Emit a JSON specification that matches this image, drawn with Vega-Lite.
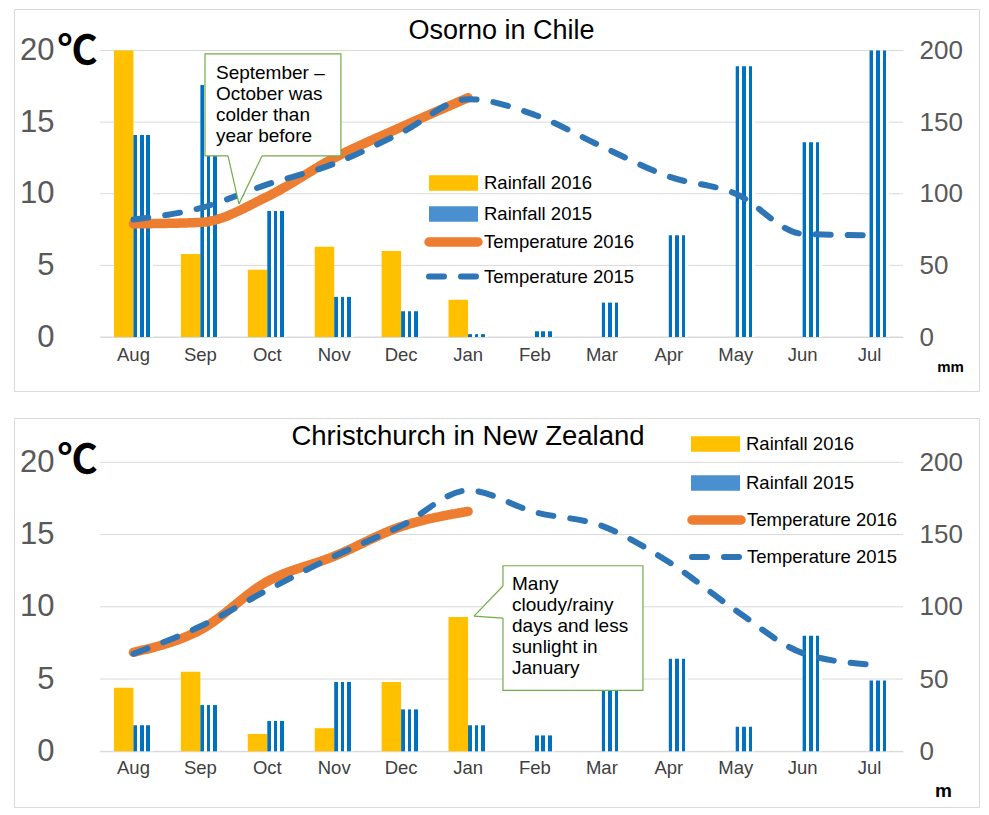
{
  "$schema": "https://vega.github.io/schema/vega-lite/v6.json",
  "padding": {"left": 13, "top": 8, "right": 0, "bottom": 0},
  "spacing": 25,
  "background": "white",
  "config": {
    "font": "Liberation Sans",
    "view": {"stroke": "#d9d9d9", "strokeWidth": 1},
    "title": {"font": "Liberation Sans", "fontWeight": "normal", "fontSize": 27, "color": "#000000", "baseline": "alphabetic", "frame": "group", "anchor": "middle"},
    "axis": {"labelFont": "Liberation Sans", "ticks": false, "tickSize": 0, "grid": false},
    "legend": {"labelFont": "Liberation Sans", "labelFontSize": 18.5, "labelColor": "#000000", "padding": 0, "orient": "none", "title": null}
  },
  "datasets": {
    "gridticks": [{"t": 0}, {"t": 5}, {"t": 10}, {"t": 15}, {"t": 20}],
    "osorno_rain": [
      {"month": "Aug", "series": "Rainfall 2016", "mm": 200},
      {"month": "Sep", "series": "Rainfall 2016", "mm": 58},
      {"month": "Oct", "series": "Rainfall 2016", "mm": 47},
      {"month": "Nov", "series": "Rainfall 2016", "mm": 63},
      {"month": "Dec", "series": "Rainfall 2016", "mm": 60},
      {"month": "Jan", "series": "Rainfall 2016", "mm": 26},
      {"month": "Aug", "series": "Rainfall 2015", "mm": 141},
      {"month": "Sep", "series": "Rainfall 2015", "mm": 176},
      {"month": "Oct", "series": "Rainfall 2015", "mm": 88},
      {"month": "Nov", "series": "Rainfall 2015", "mm": 28},
      {"month": "Dec", "series": "Rainfall 2015", "mm": 18},
      {"month": "Jan", "series": "Rainfall 2015", "mm": 2},
      {"month": "Feb", "series": "Rainfall 2015", "mm": 4},
      {"month": "Mar", "series": "Rainfall 2015", "mm": 24},
      {"month": "Apr", "series": "Rainfall 2015", "mm": 71},
      {"month": "May", "series": "Rainfall 2015", "mm": 189},
      {"month": "Jun", "series": "Rainfall 2015", "mm": 136},
      {"month": "Jul", "series": "Rainfall 2015", "mm": 200}
    ],
    "osorno_temp": [
      {"month": "Aug", "series": "Temperature 2016", "c": 7.9},
      {"month": "Sep", "series": "Temperature 2016", "c": 8.0},
      {"month": "Oct", "series": "Temperature 2016", "c": 9.8},
      {"month": "Nov", "series": "Temperature 2016", "c": 12.5},
      {"month": "Dec", "series": "Temperature 2016", "c": 14.65},
      {"month": "Jan", "series": "Temperature 2016", "c": 16.7},
      {"month": "Aug", "series": "Temperature 2015", "c": 8.2},
      {"month": "Sep", "series": "Temperature 2015", "c": 9.0},
      {"month": "Oct", "series": "Temperature 2015", "c": 10.65},
      {"month": "Nov", "series": "Temperature 2015", "c": 12.1},
      {"month": "Dec", "series": "Temperature 2015", "c": 14.25},
      {"month": "Jan", "series": "Temperature 2015", "c": 16.6},
      {"month": "Feb", "series": "Temperature 2015", "c": 15.5},
      {"month": "Mar", "series": "Temperature 2015", "c": 13.3},
      {"month": "Apr", "series": "Temperature 2015", "c": 11.2},
      {"month": "May", "series": "Temperature 2015", "c": 10.0},
      {"month": "Jun", "series": "Temperature 2015", "c": 7.2},
      {"month": "Jul", "series": "Temperature 2015", "c": 7.1}
    ],
    "chch_rain": [
      {"month": "Aug", "series": "Rainfall 2016", "mm": 44},
      {"month": "Sep", "series": "Rainfall 2016", "mm": 55},
      {"month": "Oct", "series": "Rainfall 2016", "mm": 12},
      {"month": "Nov", "series": "Rainfall 2016", "mm": 16},
      {"month": "Dec", "series": "Rainfall 2016", "mm": 48},
      {"month": "Jan", "series": "Rainfall 2016", "mm": 93},
      {"month": "Aug", "series": "Rainfall 2015", "mm": 18},
      {"month": "Sep", "series": "Rainfall 2015", "mm": 32},
      {"month": "Oct", "series": "Rainfall 2015", "mm": 21},
      {"month": "Nov", "series": "Rainfall 2015", "mm": 48},
      {"month": "Dec", "series": "Rainfall 2015", "mm": 29},
      {"month": "Jan", "series": "Rainfall 2015", "mm": 18},
      {"month": "Feb", "series": "Rainfall 2015", "mm": 11},
      {"month": "Mar", "series": "Rainfall 2015", "mm": 45},
      {"month": "Apr", "series": "Rainfall 2015", "mm": 64},
      {"month": "May", "series": "Rainfall 2015", "mm": 17},
      {"month": "Jun", "series": "Rainfall 2015", "mm": 80},
      {"month": "Jul", "series": "Rainfall 2015", "mm": 49}
    ],
    "chch_temp": [
      {"month": "Aug", "series": "Temperature 2016", "c": 6.85},
      {"month": "Sep", "series": "Temperature 2016", "c": 8.4},
      {"month": "Oct", "series": "Temperature 2016", "c": 11.75},
      {"month": "Nov", "series": "Temperature 2016", "c": 13.5},
      {"month": "Dec", "series": "Temperature 2016", "c": 15.55},
      {"month": "Jan", "series": "Temperature 2016", "c": 16.6},
      {"month": "Aug", "series": "Temperature 2015", "c": 6.75},
      {"month": "Sep", "series": "Temperature 2015", "c": 8.65},
      {"month": "Oct", "series": "Temperature 2015", "c": 11.15},
      {"month": "Nov", "series": "Temperature 2015", "c": 13.5},
      {"month": "Dec", "series": "Temperature 2015", "c": 15.6},
      {"month": "Jan", "series": "Temperature 2015", "c": 18.05},
      {"month": "Feb", "series": "Temperature 2015", "c": 16.55},
      {"month": "Mar", "series": "Temperature 2015", "c": 15.6},
      {"month": "Apr", "series": "Temperature 2015", "c": 13.1},
      {"month": "May", "series": "Temperature 2015", "c": 9.75},
      {"month": "Jun", "series": "Temperature 2015", "c": 6.8},
      {"month": "Jul", "series": "Temperature 2015", "c": 6.0}
    ],
    "osorno_box": [{"x1": 1.069, "x2": 3.1, "y1": 12.64, "y2": 19.76}],
    "osorno_ptr_fill": [
      {"x": 1.413, "y": 12.75, "y2": 12.64},
      {"x": 1.577, "y": 12.75, "y2": 9.28},
      {"x": 1.921, "y": 12.75, "y2": 12.64}
    ],
    "osorno_ptr_edges": [
      {"x": 1.413, "y": 12.64, "x2": 1.577, "y2": 9.28},
      {"x": 1.577, "y": 9.28, "x2": 1.921, "y2": 12.64}
    ],
    "osorno_note": [{"x": 1.233, "y": 18.01, "text": "September –\nOctober was\ncolder than\nyear before"}],
    "chch_box": [{"x1": 5.522, "x2": 7.614, "y1": 4.22, "y2": 12.84}],
    "chch_ptr_fill": [
      {"x": 5.089, "y": 9.36, "y2": 9.36},
      {"x": 5.522, "y": 11.44, "y2": 9.22},
      {"x": 5.55, "y": 11.44, "y2": 9.22}
    ],
    "chch_ptr_edges": [
      {"x": 5.089, "y": 9.36, "x2": 5.522, "y2": 11.44},
      {"x": 5.089, "y": 9.36, "x2": 5.522, "y2": 9.22}
    ],
    "chch_note": [{"x": 5.657, "y": 11.16, "text": "Many\ncloudy/rainy\ndays and less\nsunlight  in\nJanuary"}]
  },
  "vconcat": [
    {
      "width": 965,
      "height": 382,
      "title": {"text": "Osorno in Chile", "offset": -36, "dx": 5},
      "layer": [
        {
          "data": {"name": "gridticks"},
          "mark": {"type": "rule", "color": "#d9d9d9", "strokeWidth": 1},
          "encoding": {
            "x": {"datum": -0.5, "type": "quantitative", "scale": {"domain": [-0.5, 11.5], "range": [86, 889], "nice": false, "zero": false}, "axis": null},
            "x2": {"datum": 11.5},
            "y": {"field": "t", "type": "quantitative", "scale": {"domain": [0, 20], "range": [328, 41.5], "nice": false}, "axis": null}
          }
        },
        {
          "data": {"name": "osorno_rain"},
          "encoding": {
            "x": {"field": "month", "type": "nominal", "sort": null,
                  "scale": {"domain": ["Aug","Sep","Oct","Nov","Dec","Jan","Feb","Mar","Apr","May","Jun","Jul"], "range": [86, 889], "paddingInner": 0.417, "paddingOuter": 0.2085},
                  "axis": {"orient": "bottom", "offset": -54, "title": null, "labelAngle": 0, "labelFontSize": 18.5, "labelColor": "#404040", "labelPadding": 8, "domain": true, "domainColor": "#d9d9d9"}},
            "xOffset": {"field": "series", "scale": {"domain": ["Rainfall 2016", "Rainfall 2015"], "paddingInner": 0, "paddingOuter": 0}},
            "y": {"field": "mm", "type": "quantitative", "scale": {"domain": [0, 200], "range": [328, 41.5], "nice": false},
                  "axis": {"orient": "right", "offset": -76, "values": [0, 50, 100, 150, 200], "domain": false, "labelPadding": 16, "labelFontSize": 26, "labelColor": "#595959",
                           "title": "mm", "titleAngle": 0, "titleX": 47, "titleY": 362, "titleAlign": "center", "titleBaseline": "alphabetic", "titleFontSize": 15, "titleFontWeight": "bold", "titleColor": "#000000"}}
          },
          "layer": [
            {
              "transform": [{"filter": "datum.series === 'Rainfall 2016'"}],
              "mark": {"type": "bar"},
              "encoding": {
                "color": {"field": "series", "type": "nominal",
                          "scale": {"domain": ["Rainfall 2016", "Rainfall 2015"], "range": ["#ffc000", "#4a90d0"]},
                          "legend": {"legendX": 427, "legendY": 161.5, "symbolType": "M-2,-0.64L2,-0.64L2,0.64L-2,0.64Z", "symbolSize": 600.25, "symbolStrokeWidth": 0, "labelOffset": 18, "rowPadding": 9}}
              }
            },
            {
              "transform": [{"filter": "datum.series === 'Rainfall 2015'"}],
              "mark": {"type": "bar", "fill": {"gradient": "linear", "x1": 0, "y1": 0, "x2": 1, "y2": 0, "stops": [{"offset": 0, "color": "#0070c0"}, {"offset": 0.183, "color": "#0070c0"}, {"offset": 0.183, "color": "#ffffff"}, {"offset": 0.333, "color": "#ffffff"}, {"offset": 0.333, "color": "#0070c0"}, {"offset": 0.517, "color": "#0070c0"}, {"offset": 0.517, "color": "#ffffff"}, {"offset": 0.667, "color": "#ffffff"}, {"offset": 0.667, "color": "#0070c0"}, {"offset": 0.85, "color": "#0070c0"}, {"offset": 0.85, "color": "#ffffff"}, {"offset": 1, "color": "#ffffff"}]}}
            }
          ]
        },
        {
          "data": {"name": "osorno_temp"},
          "encoding": {
            "x": {"field": "month", "type": "nominal", "sort": null,
                  "scale": {"domain": ["Aug","Sep","Oct","Nov","Dec","Jan","Feb","Mar","Apr","May","Jun","Jul"], "range": [86, 889], "paddingInner": 0.417, "paddingOuter": 0.2085}, "axis": null},
            "y": {"field": "c", "type": "quantitative", "scale": {"domain": [0, 20], "range": [328, 41.5], "nice": false},
                  "axis": {"orient": "left", "offset": -86, "values": [0, 5, 10, 15, 20], "domain": false, "labelPadding": 46, "labelFontSize": 31, "labelColor": "#595959",
                           "title": "℃", "titleFont": "Noto Sans CJK JP", "titleAngle": 0, "titleX": -23, "titleY": 54, "titleAlign": "center", "titleBaseline": "alphabetic", "titleFontSize": 40, "titleFontWeight": "bold", "titleColor": "#000000"}},
            "color": {"field": "series", "type": "nominal", "scale": {"domain": ["Temperature 2016", "Temperature 2015"], "range": ["#ed7d31", "#2e75b6"]},
                      "legend": {"legendX": 422.5, "legendY": 216, "symbolType": "M-2,0L2,0", "symbolSize": 600.25, "labelOffset": 13.5, "rowPadding": 0, "encode": {"symbols": {"update": {"strokeCap": {"value": "round"}}}}}},
            "strokeDash": {"field": "series", "type": "nominal", "scale": {"domain": ["Temperature 2016", "Temperature 2015"], "range": [[1, 0], [15, 17]]},
                      "legend": {"legendX": 422.5, "legendY": 216, "symbolType": "M-2,0L2,0", "symbolSize": 600.25, "labelOffset": 13.5, "rowPadding": 0, "encode": {"symbols": {"update": {"strokeCap": {"value": "round"}}}}}},
            "strokeWidth": {"field": "series", "type": "nominal", "scale": {"domain": ["Temperature 2016", "Temperature 2015"], "range": [9.5, 6]},
                      "legend": {"legendX": 422.5, "legendY": 216, "symbolType": "M-2,0L2,0", "symbolSize": 600.25, "labelOffset": 13.5, "rowPadding": 0, "encode": {"symbols": {"update": {"strokeCap": {"value": "round"}}}}}}
          },
          "layer": [
            {"transform": [{"filter": "datum.series === 'Temperature 2016'"}], "mark": {"type": "line", "strokeCap": "round", "strokeJoin": "round", "interpolate": "monotone"}},
            {"transform": [{"filter": "datum.series === 'Temperature 2015'"}], "mark": {"type": "line", "strokeCap": "round", "strokeJoin": "round", "interpolate": "monotone"}}
          ]
        },
        {
          "layer": [
            {
              "data": {"name": "osorno_box"},
              "mark": {"type": "rect", "fill": "#ffffff", "stroke": "#70ad47", "strokeWidth": 1.2},
              "encoding": {
                "x": {"field": "x1", "type": "quantitative", "scale": {"domain": [-0.5, 11.5], "range": [86, 889], "nice": false, "zero": false}, "axis": null},
                "x2": {"field": "x2"},
                "y": {"field": "y1", "type": "quantitative", "scale": {"domain": [0, 20], "range": [328, 41.5], "nice": false}, "axis": null},
                "y2": {"field": "y2"}
              }
            },
            {
              "data": {"name": "osorno_ptr_fill"},
              "mark": {"type": "area", "fill": "#ffffff", "interpolate": "linear"},
              "encoding": {
                "x": {"field": "x", "type": "quantitative"},
                "y": {"field": "y", "type": "quantitative"},
                "y2": {"field": "y2"}
              }
            },
            {
              "data": {"name": "osorno_ptr_edges"},
              "mark": {"type": "rule", "stroke": "#70ad47", "strokeWidth": 1.2},
              "encoding": {
                "x": {"field": "x", "type": "quantitative"},
                "x2": {"field": "x2"},
                "y": {"field": "y", "type": "quantitative"},
                "y2": {"field": "y2"}
              }
            },
            {
              "data": {"name": "osorno_note"},
              "mark": {"type": "text", "align": "left", "baseline": "alphabetic", "lineBreak": "\n", "lineHeight": 21, "fontSize": 19, "font": "Liberation Sans", "color": "#000000"},
              "encoding": {
                "x": {"field": "x", "type": "quantitative"},
                "y": {"field": "y", "type": "quantitative"},
                "text": {"field": "text"}
              }
            }
          ]
        }
      ],
      "resolve": {"scale": {"x": "independent", "y": "independent", "color": "independent", "strokeDash": "independent", "strokeWidth": "independent"}}
    },
    {
      "width": 965,
      "height": 389,
      "title": {"text": "Christchurch in New Zealand", "offset": -32, "dx": -28.5, "fontSize": 27.5},
      "layer": [
        {
          "data": {"name": "gridticks"},
          "mark": {"type": "rule", "color": "#d9d9d9", "strokeWidth": 1},
          "encoding": {
            "x": {"datum": -0.5, "type": "quantitative", "scale": {"domain": [-0.5, 11.5], "range": [86, 889], "nice": false, "zero": false}, "axis": null},
            "x2": {"datum": 11.5},
            "y": {"field": "t", "type": "quantitative", "scale": {"domain": [0, 20], "range": [333.3, 44.3], "nice": false}, "axis": null}
          }
        },
        {
          "data": {"name": "chch_rain"},
          "encoding": {
            "x": {"field": "month", "type": "nominal", "sort": null,
                  "scale": {"domain": ["Aug","Sep","Oct","Nov","Dec","Jan","Feb","Mar","Apr","May","Jun","Jul"], "range": [86, 889], "paddingInner": 0.417, "paddingOuter": 0.2085},
                  "axis": {"orient": "bottom", "offset": -55.7, "title": null, "labelAngle": 0, "labelFontSize": 18.5, "labelColor": "#404040", "labelPadding": 7, "domain": true, "domainColor": "#d9d9d9"}},
            "xOffset": {"field": "series", "scale": {"domain": ["Rainfall 2016", "Rainfall 2015"], "paddingInner": 0, "paddingOuter": 0}},
            "y": {"field": "mm", "type": "quantitative", "scale": {"domain": [0, 200], "range": [333.3, 44.3], "nice": false},
                  "axis": {"orient": "right", "offset": -76, "values": [0, 50, 100, 150, 200], "domain": false, "labelPadding": 16, "labelFontSize": 26, "labelColor": "#595959",
                           "title": "m", "titleAngle": 0, "titleX": 40, "titleY": 378, "titleAlign": "center", "titleBaseline": "alphabetic", "titleFontSize": 19, "titleFontWeight": "bold", "titleColor": "#000000"}}
          },
          "layer": [
            {
              "transform": [{"filter": "datum.series === 'Rainfall 2016'"}],
              "mark": {"type": "bar"},
              "encoding": {
                "color": {"field": "series", "type": "nominal",
                          "scale": {"domain": ["Rainfall 2016", "Rainfall 2015"], "range": ["#ffc000", "#4a90d0"]},
                          "legend": {"legendX": 689, "legendY": 13.5, "symbolType": "M-2,-0.64L2,-0.64L2,0.64L-2,0.64Z", "symbolSize": 600.25, "symbolStrokeWidth": 0, "labelOffset": 18, "rowPadding": 17}}
              }
            },
            {
              "transform": [{"filter": "datum.series === 'Rainfall 2015'"}],
              "mark": {"type": "bar", "fill": {"gradient": "linear", "x1": 0, "y1": 0, "x2": 1, "y2": 0, "stops": [{"offset": 0, "color": "#0070c0"}, {"offset": 0.183, "color": "#0070c0"}, {"offset": 0.183, "color": "#ffffff"}, {"offset": 0.333, "color": "#ffffff"}, {"offset": 0.333, "color": "#0070c0"}, {"offset": 0.517, "color": "#0070c0"}, {"offset": 0.517, "color": "#ffffff"}, {"offset": 0.667, "color": "#ffffff"}, {"offset": 0.667, "color": "#0070c0"}, {"offset": 0.85, "color": "#0070c0"}, {"offset": 0.85, "color": "#ffffff"}, {"offset": 1, "color": "#ffffff"}]}}
            }
          ]
        },
        {
          "data": {"name": "chch_temp"},
          "encoding": {
            "x": {"field": "month", "type": "nominal", "sort": null,
                  "scale": {"domain": ["Aug","Sep","Oct","Nov","Dec","Jan","Feb","Mar","Apr","May","Jun","Jul"], "range": [86, 889], "paddingInner": 0.417, "paddingOuter": 0.2085}, "axis": null},
            "y": {"field": "c", "type": "quantitative", "scale": {"domain": [0, 20], "range": [333.3, 44.3], "nice": false},
                  "axis": {"orient": "left", "offset": -86, "values": [0, 5, 10, 15, 20], "domain": false, "labelPadding": 46, "labelFontSize": 31, "labelColor": "#595959",
                           "title": "℃", "titleFont": "Noto Sans CJK JP", "titleAngle": 0, "titleX": -23, "titleY": 54, "titleAlign": "center", "titleBaseline": "alphabetic", "titleFontSize": 40, "titleFontWeight": "bold", "titleColor": "#000000"}},
            "color": {"field": "series", "type": "nominal", "scale": {"domain": ["Temperature 2016", "Temperature 2015"], "range": ["#ed7d31", "#2e75b6"]},
                      "legend": {"legendX": 685.5, "legendY": 85, "symbolType": "M-2,0L2,0", "symbolSize": 600.25, "labelOffset": 13.5, "rowPadding": 2.5, "encode": {"symbols": {"update": {"strokeCap": {"value": "round"}}}}}},
            "strokeDash": {"field": "series", "type": "nominal", "scale": {"domain": ["Temperature 2016", "Temperature 2015"], "range": [[1, 0], [15, 17]]},
                      "legend": {"legendX": 685.5, "legendY": 85, "symbolType": "M-2,0L2,0", "symbolSize": 600.25, "labelOffset": 13.5, "rowPadding": 2.5, "encode": {"symbols": {"update": {"strokeCap": {"value": "round"}}}}}},
            "strokeWidth": {"field": "series", "type": "nominal", "scale": {"domain": ["Temperature 2016", "Temperature 2015"], "range": [9.5, 6]},
                      "legend": {"legendX": 685.5, "legendY": 85, "symbolType": "M-2,0L2,0", "symbolSize": 600.25, "labelOffset": 13.5, "rowPadding": 2.5, "encode": {"symbols": {"update": {"strokeCap": {"value": "round"}}}}}}
          },
          "layer": [
            {"transform": [{"filter": "datum.series === 'Temperature 2016'"}], "mark": {"type": "line", "strokeCap": "round", "strokeJoin": "round", "interpolate": "monotone"}},
            {"transform": [{"filter": "datum.series === 'Temperature 2015'"}], "mark": {"type": "line", "strokeCap": "round", "strokeJoin": "round", "interpolate": "monotone"}}
          ]
        },
        {
          "layer": [
            {
              "data": {"name": "chch_box"},
              "mark": {"type": "rect", "fill": "#ffffff", "stroke": "#70ad47", "strokeWidth": 1.2},
              "encoding": {
                "x": {"field": "x1", "type": "quantitative", "scale": {"domain": [-0.5, 11.5], "range": [86, 889], "nice": false, "zero": false}, "axis": null},
                "x2": {"field": "x2"},
                "y": {"field": "y1", "type": "quantitative", "scale": {"domain": [0, 20], "range": [333.3, 44.3], "nice": false}, "axis": null},
                "y2": {"field": "y2"}
              }
            },
            {
              "data": {"name": "chch_ptr_fill"},
              "mark": {"type": "area", "fill": "#ffffff", "interpolate": "linear"},
              "encoding": {
                "x": {"field": "x", "type": "quantitative"},
                "y": {"field": "y", "type": "quantitative"},
                "y2": {"field": "y2"}
              }
            },
            {
              "data": {"name": "chch_ptr_edges"},
              "mark": {"type": "rule", "stroke": "#70ad47", "strokeWidth": 1.2},
              "encoding": {
                "x": {"field": "x", "type": "quantitative"},
                "x2": {"field": "x2"},
                "y": {"field": "y", "type": "quantitative"},
                "y2": {"field": "y2"}
              }
            },
            {
              "data": {"name": "chch_note"},
              "mark": {"type": "text", "align": "left", "baseline": "alphabetic", "lineBreak": "\n", "lineHeight": 21, "fontSize": 19, "font": "Liberation Sans", "color": "#000000"},
              "encoding": {
                "x": {"field": "x", "type": "quantitative"},
                "y": {"field": "y", "type": "quantitative"},
                "text": {"field": "text"}
              }
            }
          ]
        }
      ],
      "resolve": {"scale": {"x": "independent", "y": "independent", "color": "independent", "strokeDash": "independent", "strokeWidth": "independent"}}
    }
  ]
}
